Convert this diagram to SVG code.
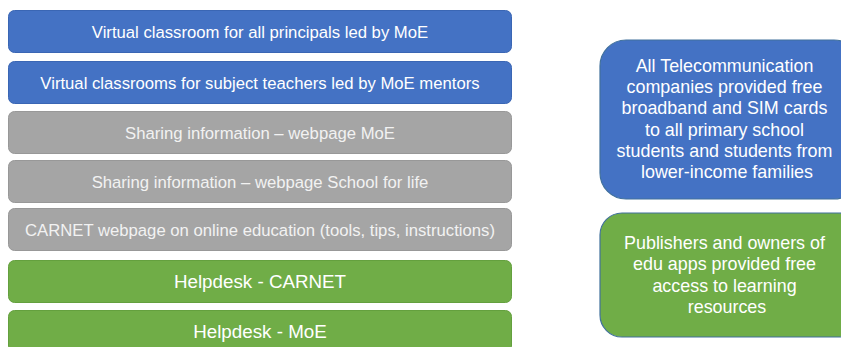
<svg xmlns="http://www.w3.org/2000/svg" width="841" height="347" viewBox="0 0 841 347">
  <style>
    .bar { stroke-width: 1; }
    .blue { fill: #4472C4; stroke: #3A66B4; }
    .gray { fill: #A5A5A5; stroke: #989898; }
    .green { fill: #70AD47; stroke: #64A03E; }
    .side { stroke: #41719C; stroke-width: 1.2; }
    text { font-family: "Liberation Sans", Arial, sans-serif; text-anchor: middle; }
    .t16 { font-size: 16.7px; fill: #FFFFFF; }
    .t16g { font-size: 16.7px; fill: #F2F2F2; }
    .t20 { font-size: 18.8px; fill: #FFFFFF; }
    .t17 { font-size: 17.9px; fill: #FFFFFF; }
  </style>

  <!-- left column of horizontal bars -->
  <g id="principals">
    <rect class="bar blue" x="8.5" y="10.5" width="503" height="42" rx="6"/>
    <text class="t16" x="260" y="37.5">Virtual classroom for all principals led by MoE</text>
  </g>
  <g id="subject-teachers">
    <rect class="bar blue" x="8.5" y="61.5" width="503" height="42" rx="6"/>
    <text class="t16" x="260" y="88.5">Virtual classrooms for subject teachers led by MoE mentors</text>
  </g>
  <g id="webpage-moe">
    <rect class="bar gray" x="8.5" y="111.5" width="503" height="42" rx="6"/>
    <text class="t16g" x="260" y="138.5">Sharing information – webpage MoE</text>
  </g>
  <g id="webpage-school">
    <rect class="bar gray" x="8.5" y="160.5" width="503" height="42" rx="6"/>
    <text class="t16g" x="260" y="187.5">Sharing information – webpage School for life</text>
  </g>
  <g id="carnet-webpage">
    <rect class="bar gray" x="8.5" y="208.5" width="503" height="42" rx="6"/>
    <text class="t16g" x="260" y="235.5">CARNET webpage on online education (tools, tips, instructions)</text>
  </g>
  <g id="helpdesk-carnet">
    <rect class="bar green" x="8.5" y="260.5" width="503" height="42" rx="6"/>
    <text class="t20" x="260" y="288">Helpdesk - CARNET</text>
  </g>
  <g id="helpdesk-moe">
    <rect class="bar green" x="8.5" y="310.5" width="503" height="42" rx="6"/>
    <text class="t20" x="260" y="338">Helpdesk - MoE</text>
  </g>

  <!-- right column of rounded boxes -->
  <g id="telecom">
    <rect class="side" x="600" y="40" width="260" height="159" rx="26" fill="#4472C4"/>
    <text class="t17">
      <tspan x="727" y="72">All Telecommunication</tspan>
      <tspan x="727" y="93">companies provided free</tspan>
      <tspan x="727" y="114">broadband and SIM cards</tspan>
      <tspan x="727" y="136">to all primary school</tspan>
      <tspan x="727" y="157">students and students from</tspan>
      <tspan x="727" y="178">lower-income families</tspan>
    </text>
  </g>
  <g id="publishers">
    <rect class="side" x="600" y="213" width="260" height="124" rx="22" fill="#70AD47"/>
    <text class="t17">
      <tspan x="727" y="249">Publishers and owners of</tspan>
      <tspan x="727" y="270">edu apps provided free</tspan>
      <tspan x="727" y="292">access to learning</tspan>
      <tspan x="727" y="313">resources</tspan>
    </text>
  </g>

  <g id="connectors"></g>
</svg>
